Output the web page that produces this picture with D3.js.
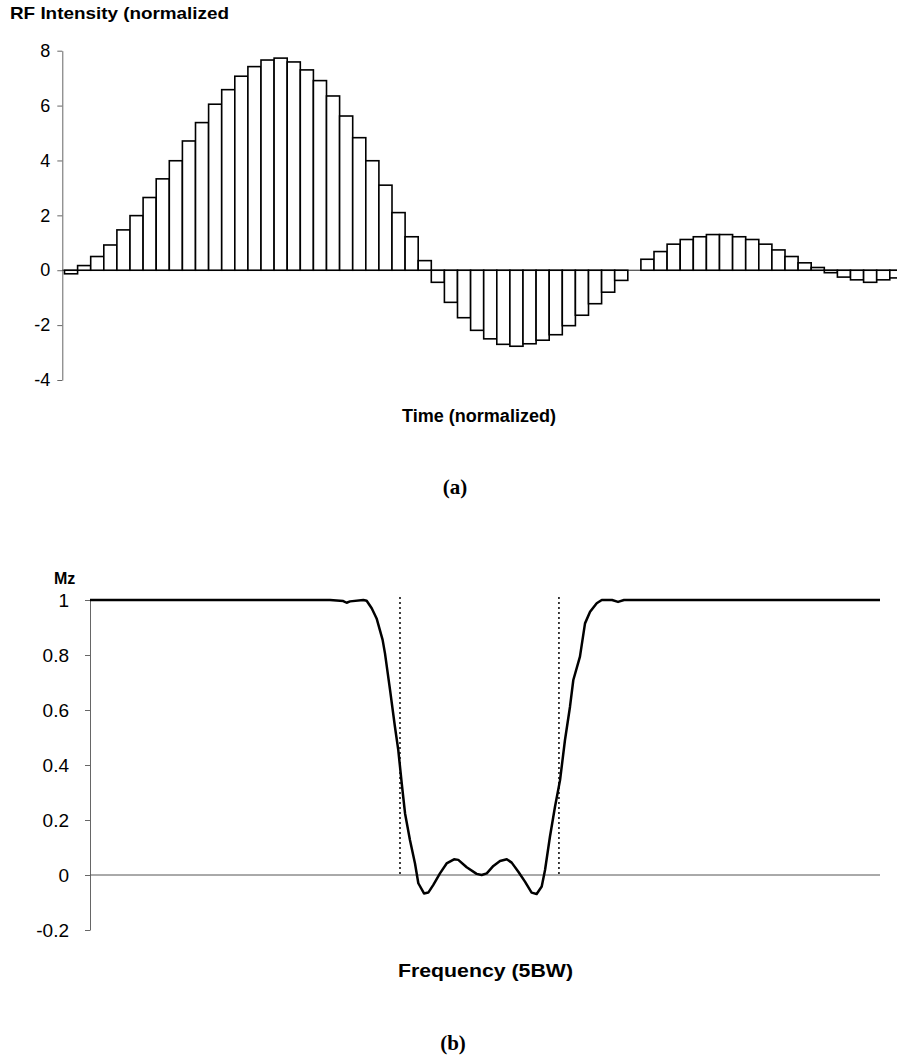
<!DOCTYPE html>
<meta charset="utf-8">
<style>
    body { margin: 0; background: #fff; }
    svg { display: block; background: #fff; }
    .axis text { font-family: Arial, "Liberation Sans", sans-serif; fill: #000; }
    .axis path, .axis line { stroke: #666; }
    .bars rect { fill: #fff; stroke: #000; stroke-width: 1.6px; }
    .label { font-family: Arial, "Liberation Sans", sans-serif; font-weight: bold; fill: #000; }
    .caption { font-family: "Times New Roman", "Liberation Serif", serif; font-weight: bold; fill: #000; }
</style>
<svg width="897" height="1059"></svg>
<script src="https://d3js.org/d3.v7.min.js"></script>
<script>

    // (a) RF pulse samples, 64 steps
    var rfValues = [
        -0.13, 0.17, 0.50, 0.92, 1.47, 1.99, 2.65, 3.33, 3.99, 4.71, 5.38, 6.05, 6.58, 7.07, 7.42, 7.66,
        7.73, 7.59, 7.30, 6.91, 6.35, 5.62, 4.83, 3.99, 3.10, 2.10, 1.22, 0.35, -0.44, -1.17, -1.73, -2.19,
        -2.50, -2.70, -2.77, -2.68, -2.55, -2.35, -2.02, -1.64, -1.22, -0.80, -0.37, 0, 0.40, 0.68, 0.95, 1.12,
        1.22, 1.30, 1.30, 1.22, 1.12, 0.95, 0.74, 0.50, 0.27, 0.10, -0.09, -0.25, -0.35, -0.44, -0.35, -0.28
    ];
    var rfTicks = [-4, -2, 0, 2, 4, 6, 8];

    // (b) frequency profile, frequency in BW units (0..5)
    var freq = [0, 1.519, 1.603, 1.624, 1.646, 1.730, 1.751, 1.783, 1.814, 1.852, 1.867, 1.899, 1.930, 1.951,
        1.973, 1.994, 2.025, 2.057, 2.078, 2.114, 2.141, 2.173, 2.215, 2.257, 2.304, 2.331, 2.384, 2.447,
        2.479, 2.511, 2.553, 2.595, 2.638, 2.669, 2.711, 2.753, 2.795, 2.827, 2.859, 2.880, 2.911, 2.943,
        2.975, 3.006, 3.038, 3.059, 3.101, 3.133, 3.165, 3.207, 3.239, 3.304, 3.342, 3.380, 5];
    var mz = [1, 1, 0.996, 0.99, 0.995, 1, 0.997, 0.97, 0.933, 0.855, 0.806, 0.673, 0.539, 0.455,
        0.333, 0.224, 0.127, 0.042, -0.03, -0.067, -0.064, -0.036, 0.006, 0.042, 0.057, 0.055, 0.028, 0.004,
        0, 0.006, 0.033, 0.051, 0.057, 0.045, 0.012, -0.024, -0.064, -0.069, -0.042, 0.018, 0.139, 0.248,
        0.345, 0.49, 0.612, 0.709, 0.794, 0.915, 0.957, 0.988, 1, 1, 0.993, 1, 1];
    var bandEdges = [1.962, 2.968];
    var mzTicks = [-0.2, 0, 0.2, 0.4, 0.6, 0.8, 1];

    var svg = d3.select("svg");

    // ---------- (a) ----------
    var xa = d3.scaleBand()
        .domain(d3.range(rfValues.length))
        .range([64.5, 64.5 + 13.1 * rfValues.length])
        .paddingInner(0);
    var ya = d3.scaleLinear().domain([-4, 8]).range([380, 50.7]);

    svg.append("g")
        .attr("class", "axis")
        .attr("transform", "translate(62.3,0)")
        .call(d3.axisLeft(ya).tickValues(rfTicks).tickSizeInner(5).tickSizeOuter(0).tickPadding(7)
            .tickFormat(function(d) { return String(d); }))  // plain hyphen, like the original
        .selectAll("text").style("font-size", "18px");

    svg.append("line")  // zero line
        .attr("x1", 62.3).attr("x2", 897)
        .attr("y1", ya(0)).attr("y2", ya(0))
        .attr("stroke", "#222").attr("stroke-width", 1);

    svg.append("g")
        .attr("class", "bars")
        .selectAll("rect")
        .data(rfValues)
        .enter().append("rect")
        .attr("x", function(d, i) { return xa(i); })
        .attr("width", xa.bandwidth())
        .attr("y", function(d) { return ya(Math.max(0, d)); })
        .attr("height", function(d) { return Math.abs(ya(d) - ya(0)); });

    svg.append("text")
        .attr("class", "label")
        .attr("x", 10).attr("y", 18.5)
        .attr("font-size", 17)
        .attr("textLength", 219).attr("lengthAdjust", "spacingAndGlyphs")
        .text("RF Intensity (normalized");

    svg.append("text")
        .attr("class", "label")
        .attr("x", 402).attr("y", 422)
        .attr("font-size", 18)
        .attr("textLength", 154).attr("lengthAdjust", "spacingAndGlyphs")
        .text("Time (normalized)");

    svg.append("text")
        .attr("class", "caption")
        .attr("x", 455).attr("y", 494)
        .attr("text-anchor", "middle")
        .attr("font-size", 21)
        .text("(a)");

    // ---------- (b) ----------
    var xb = d3.scaleLinear().domain([0, 5]).range([90, 880]);
    var yb = d3.scaleLinear().domain([-0.2, 1]).range([930, 600]);

    svg.append("g")
        .attr("class", "axis")
        .attr("transform", "translate(90,0)")
        .call(d3.axisLeft(yb).tickValues(mzTicks).tickSizeInner(5).tickSizeOuter(0).tickPadding(16)
            .tickFormat(function(d) { return String(+d.toFixed(1)); }))
        .selectAll("text").style("font-size", "19px");

    svg.append("line")  // zero line
        .attr("x1", xb(0)).attr("x2", xb(5))
        .attr("y1", yb(0)).attr("y2", yb(0))
        .attr("stroke", "#555").attr("stroke-width", 1);

    svg.append("g")
        .selectAll("line")
        .data(bandEdges)
        .enter().append("line")
        .attr("x1", function(d) { return xb(d); })
        .attr("x2", function(d) { return xb(d); })
        .attr("y1", yb(1) - 3).attr("y2", yb(0))
        .attr("stroke", "#000").attr("stroke-width", 1.5)
        .attr("stroke-dasharray", "2,3");

    var line = d3.line()
        .x(function(d) { return xb(d[0]); })
        .y(function(d) { return yb(d[1]); });

    svg.append("path")
        .datum(d3.zip(freq, mz))
        .attr("d", line)
        .attr("fill", "none")
        .attr("stroke", "#000")
        .attr("stroke-width", 2.5)
        .attr("stroke-linejoin", "round");

    svg.append("text")
        .attr("class", "label")
        .attr("x", 54).attr("y", 584)
        .attr("font-size", 16)
        .text("Mz");

    svg.append("text")
        .attr("class", "label")
        .attr("x", 398).attr("y", 977)
        .attr("font-size", 18)
        .attr("textLength", 175).attr("lengthAdjust", "spacingAndGlyphs")
        .text("Frequency (5BW)");

    svg.append("text")
        .attr("class", "caption")
        .attr("x", 453).attr("y", 1050)
        .attr("text-anchor", "middle")
        .attr("font-size", 21)
        .text("(b)");

</script>
